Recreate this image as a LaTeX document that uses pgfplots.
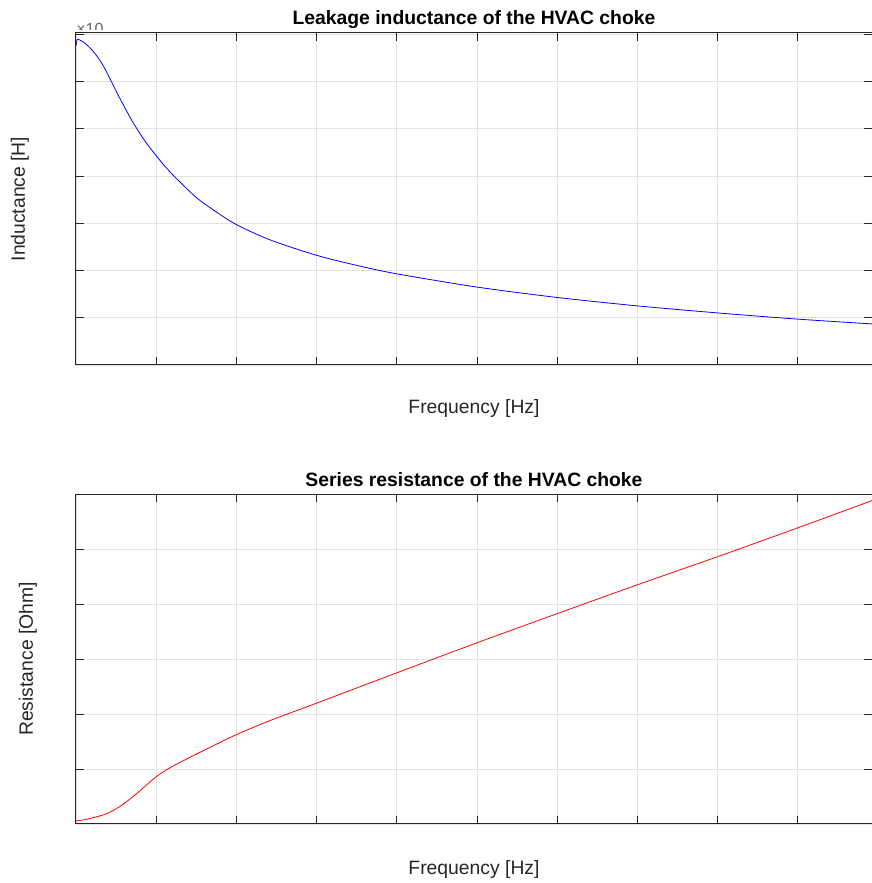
\documentclass[border=0pt]{standalone}
\usepackage{fontspec}
\setmainfont{Liberation Sans}
\usepackage{pgfplots}
\pgfplotsset{compat=1.18}

\definecolor{gridc}{RGB}{226,226,226}
\definecolor{axc}{RGB}{38,38,38}

\tikzset{
  lblfont/.style={font=\fontsize{14.5}{17}\selectfont, text=axc},
  ttlfont/.style={font=\bfseries\fontsize{14.5}{17}\selectfont, text=black},
}
\pgfplotsset{
  hvac/.style={
    scale only axis,
    width=597pt,
    xmin=0, xmax=9.925,
    xtick={0,...,9},
    xticklabels={}, yticklabels={},
    grid=major,
    major grid style={gridc, line width=0.6pt},
    axis line style={axc, line width=0.75pt},
    tick style={axc, line width=0.75pt},
    major tick length=6pt,
    xtick pos=both, ytick pos=both,
    tick align=inside,
  },
}

\begin{document}
\begin{tikzpicture}
\useasboundingbox (0,0) rectangle (654pt,662.25pt);

% top: leakage inductance
\begin{axis}[hvac,
  at={(57pt,388.5pt)}, anchor=south west,
  height=249pt,
  ymin=0, ymax=7.03, ytick={0,...,7},
  title={Leakage inductance of the HVAC choke},
  every axis title/.style={at={(axis description cs:0.5,1.039)}, anchor=center, ttlfont},
  xlabel={Frequency [Hz]},
  every axis x label/.style={at={(axis description cs:0.5,-0.1325)}, anchor=center, lblfont},
  ylabel={Inductance [H]},
  every axis y label/.style={at={(axis description cs:-0.0704,0.5)}, rotate=90, anchor=center, lblfont},
]
\addplot[blue, line width=0.6pt] coordinates {(0,6.76) (0.012,6.89)};
\addplot[blue, line width=0.6pt, smooth] coordinates {
  (0.012,6.89) (0.025,6.90) (0.10,6.83) (0.183,6.70) (0.266,6.53)
  (0.349,6.31) (0.433,6.03) (0.515,5.75) (0.599,5.48) (0.682,5.22)
  (0.764,4.99) (0.848,4.77) (0.931,4.58) (1.001,4.43) (1.097,4.23)
  (1.222,4.00) (1.263,3.93) (1.505,3.54) (1.733,3.26) (2.004,2.97)
  (2.419,2.65) (3.005,2.32) (3.5,2.11) (4.002,1.93) (5.0,1.65)
  (6.0,1.43) (7.01,1.25) (8.02,1.10) (9.01,0.97) (9.925,0.87)
};
\end{axis}

% bottom: series resistance
\begin{axis}[hvac,
  at={(57pt,44.25pt)}, anchor=south west,
  height=247.5pt,
  ymin=0, ymax=6, ytick={0,...,6},
  title={Series resistance of the HVAC choke},
  every axis title/.style={at={(axis description cs:0.5,1.0425)}, anchor=center, ttlfont},
  xlabel={Frequency [Hz]},
  every axis x label/.style={at={(axis description cs:0.5,-0.1364)}, anchor=center, lblfont},
  ylabel={Resistance [Ohm]},
  every axis y label/.style={at={(axis description cs:-0.0603,0.5)}, rotate=90, anchor=center, lblfont},
]
\addplot[red, line width=0.6pt, smooth] coordinates {
  (0,0.055) (0.133,0.085) (0.337,0.164) (0.443,0.23) (0.549,0.32)
  (0.653,0.43) (0.757,0.555) (0.9,0.735) (1.006,0.865) (1.1,0.96)
  (1.2,1.045) (1.35,1.16) (1.5,1.27) (1.75,1.45) (2.0,1.625)
  (2.419,1.88) (3.005,2.20) (4.002,2.75) (5.01,3.30) (6.01,3.83)
  (7.02,4.36) (8.02,4.87) (9.01,5.39) (9.925,5.88)
};
\end{axis}

% clipped exponent label of the top axis
\begin{scope}
\clip (52.5pt,639.75pt) rectangle (86.25pt,651pt);
\node[anchor=north west, inner sep=0pt, text=axc!70,
      font=\fontsize{12}{14}\selectfont] at (57pt,645.2pt) {×10};
\end{scope}
\end{tikzpicture}
\end{document}
